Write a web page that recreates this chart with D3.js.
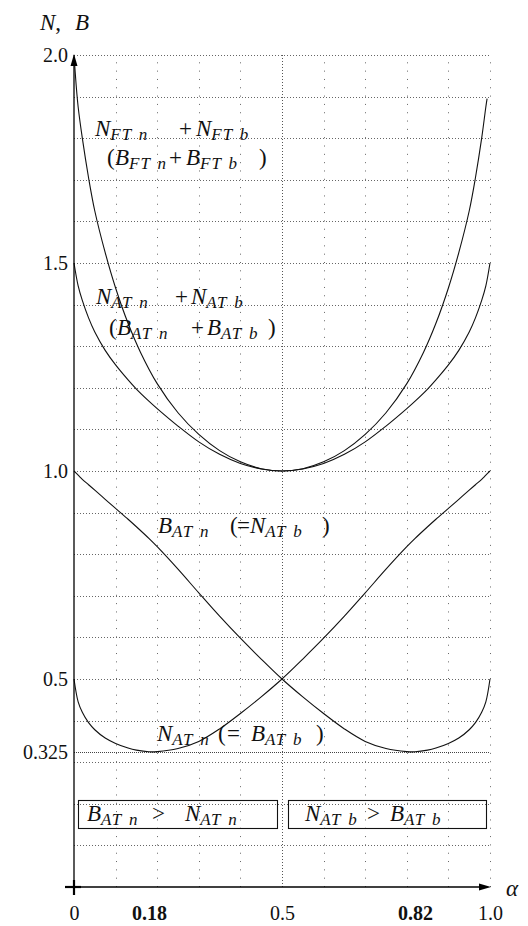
<!DOCTYPE html>
<html><head><meta charset="utf-8">
<script src="https://cdn.jsdelivr.net/npm/d3@7/dist/d3.min.js"></script>
<style>body{margin:0;background:#fff}svg{display:block}</style>
</head><body>
<svg id="chart" width="528" height="926"></svg>
<script>
// ---- data ----
const alpha = [0, 0.01, 0.02, 0.035, 0.05, 0.075, 0.1, 0.13, 0.15, 0.18, 0.2, 0.25, 0.3, 0.35, 0.4, 0.45, 0.5,
               0.55, 0.6, 0.65, 0.7, 0.75, 0.8, 0.82, 0.85, 0.87, 0.9, 0.925, 0.95, 0.965, 0.98, 0.99, 1.0];
const nATn = [0.5, 0.445, 0.42, 0.395, 0.378, 0.358, 0.345, 0.334, 0.329, 0.325, 0.3255, 0.333, 0.35, 0.38, 0.417, 0.457, 0.5,
              0.548, 0.598, 0.651, 0.707, 0.764, 0.818, 0.838, 0.866, 0.884, 0.91, 0.932, 0.954, 0.967, 0.98, 0.99, 1.0];
const bATn = [1.0, 0.99, 0.98, 0.967, 0.954, 0.932, 0.91, 0.884, 0.866, 0.838, 0.818, 0.764, 0.707, 0.651, 0.598, 0.548, 0.5,
              0.457, 0.417, 0.38, 0.35, 0.333, 0.3255, 0.325, 0.329, 0.334, 0.345, 0.358, 0.378, 0.395, 0.42, 0.445, 0.5];
const sumAT = [1.5, 1.445, 1.41, 1.368, 1.334, 1.29, 1.255, 1.219, 1.197, 1.168, 1.15, 1.108, 1.07, 1.04, 1.018, 1.005, 1.0,
               1.005, 1.018, 1.04, 1.07, 1.108, 1.15, 1.168, 1.197, 1.219, 1.255, 1.29, 1.334, 1.368, 1.41, 1.445, 1.5];
const alphaFT = [0, 0.005, 0.01, 0.02, 0.035, 0.05, 0.075, 0.1, 0.13, 0.16, 0.2, 0.25, 0.3, 0.35, 0.4, 0.45, 0.5,
                 0.55, 0.6, 0.65, 0.7, 0.75, 0.8, 0.84, 0.87, 0.9, 0.925, 0.95, 0.965, 0.98, 0.99, 0.993];
const sumFT = [2.0, 1.93, 1.875, 1.8, 1.705, 1.625, 1.525, 1.44, 1.355, 1.285, 1.21, 1.14, 1.088, 1.049, 1.022, 1.0055, 1.0,
               1.0055, 1.022, 1.049, 1.088, 1.14, 1.21, 1.285, 1.355, 1.44, 1.525, 1.625, 1.705, 1.8, 1.875, 1.895];
const yTickValues = [2.0, 1.5, 1.0, 0.5, 0.325];
const yTickLabels = ["2.0", "1.5", "1.0", "0.5", "0.325"];
const xTickValues = [0, 0.18, 0.5, 0.82, 1.0];
const xTickLabels = ["0", "0.18", "0.5", "0.82", "1.0"];
const boldTicks = [0.18, 0.82];
const minValue = 0.325;

// ---- drawing ----
const svg = d3.select("#chart");
const x = d3.scaleLinear().domain([0, 1]).range([74, 490]);
const y = d3.scaleLinear().domain([0, 2]).range([887, 55]);
const FONT = "'Liberation Serif','Times New Roman',serif";
const crisp = v => Math.round(v) + 0.5;

// grid
const gridY = d3.range(1, 21).map(i => i / 10);
const gridX = d3.range(1, 11).map(i => i / 10);
const grid = svg.append("g");
grid.selectAll("line.h").data(gridY).join("line")
  .attr("x1", x(0)).attr("x2", x(1))
  .attr("y1", d => crisp(y(d))).attr("y2", d => crisp(y(d)))
  .attr("stroke", "#666").attr("stroke-width", 1).attr("stroke-dasharray", "1,2");
grid.selectAll("line.v").data(gridX).join("line")
  .attr("x1", d => crisp(x(d))).attr("x2", d => crisp(x(d)))
  .attr("y1", y(0)).attr("y2", y(2))
  .attr("stroke", d => d === 0.5 ? "#555" : "#666").attr("stroke-width", 1)
  .attr("stroke-dasharray", d => d === 0.5 ? "1,2" : "1," + ((y(0) - y(0.1)) / 5 - 1));
grid.append("line")
  .attr("x1", x(0)).attr("x2", x(1))
  .attr("y1", crisp(y(minValue))).attr("y2", crisp(y(minValue)))
  .attr("stroke", "#444").attr("stroke-width", 1).attr("stroke-dasharray", "1,1");

// curves
const line = d3.line().curve(d3.curveCatmullRom.alpha(0.5));
const series = [
  alpha.map((a, i) => [x(a), y(nATn[i])]),
  alpha.map((a, i) => [x(a), y(bATn[i])]),
  alpha.map((a, i) => [x(a), y(sumAT[i])]),
  alphaFT.map((a, i) => [x(a), y(sumFT[i])])
];
svg.append("g").selectAll("path").data(series).join("path")
  .attr("d", d => line(d)).attr("fill", "none").attr("stroke", "#111").attr("stroke-width", 1.1);

// axes
const ax = svg.append("g").attr("stroke", "#000");
ax.append("line").attr("x1", 65).attr("x2", x(1) - 8).attr("y1", y(0)).attr("y2", y(0)).attr("stroke-width", 1.3);
ax.append("line").attr("x1", x(0)).attr("x2", x(0)).attr("y1", 895).attr("y2", y(2) + 8).attr("stroke-width", 1.3);
ax.append("line").attr("x1", 65).attr("x2", 81).attr("y1", y(0)).attr("y2", y(0)).attr("stroke-width", 2.2);
ax.append("line").attr("x1", x(0)).attr("x2", x(0)).attr("y1", 880).attr("y2", 895).attr("stroke-width", 2.2);
svg.append("path").attr("d", `M${x(1) + 1},${y(0)} L${x(1) - 11},${y(0) - 3.5} L${x(1) - 11},${y(0) + 3.5} Z`).attr("fill", "#000");
svg.append("path").attr("d", `M${x(0)},${y(2) - 1} L${x(0) - 3.5},${y(2) + 11} L${x(0) + 3.5},${y(2) + 11} Z`).attr("fill", "#000");

// tick labels via d3 axes
const yAxis = d3.axisLeft(y).tickValues(yTickValues).tickFormat((d, i) => yTickLabels[i]).tickSize(0).tickPadding(6);
const gy = svg.append("g").attr("transform", `translate(${x(0)},0)`).call(yAxis);
gy.select(".domain").remove();
gy.selectAll("text").attr("font-family", FONT).attr("font-size", 20).attr("fill", "#111");

const xAxis = d3.axisBottom(x).tickValues(xTickValues).tickFormat((d, i) => xTickLabels[i]).tickSize(0).tickPadding(19);
const gx = svg.append("g").attr("transform", `translate(0,${y(0)})`).call(xAxis);
gx.select(".domain").remove();
gx.selectAll("text").attr("font-family", FONT).attr("font-size", 20).attr("fill", "#111")
  .attr("font-weight", d => boldTicks.includes(d) ? "bold" : "normal");

// math labels: [kind, x (or null = flow), text]
function mathText(baseY, parts) {
  const t = svg.append("text").attr("font-family", FONT).attr("fill", "#111");
  parts.forEach(p => {
    const ts = t.append("tspan").text(p[2]);
    if (p[1] !== null) ts.attr("x", p[1]);
    if (p[0] === "s") {
      ts.attr("y", baseY + 4).attr("font-size", 17).attr("font-style", "italic").attr("letter-spacing", 1);
    } else {
      ts.attr("y", baseY).attr("font-size", 23).attr("font-style", p[0] === "i" ? "italic" : "normal");
    }
  });
}
const SP = "\u2004";
mathText(30, [["i", 40, "N"], ["r", null, ","], ["i", 75, "B"]]);
svg.append("text").attr("x", 506).attr("y", 896).attr("font-family", FONT).attr("font-size", 23)
  .attr("font-style", "italic").attr("fill", "#111").text("α");

mathText(136, [["i", 95, "N"], ["s", null, "FT" + SP + "n"], ["r", 179, "+"], ["i", 196, "N"], ["s", null, "FT" + SP + "b"]]);
mathText(165, [["r", 107, "("], ["i", 115, "B"], ["s", null, "FT" + SP + "n"], ["r", 169, "+"], ["i", 186, "B"], ["s", null, "FT" + SP + "b"], ["r", 259, ")"]]);
mathText(304, [["i", 96, "N"], ["s", null, "AT" + SP + "n"], ["r", 175, "+"], ["i", 191, "N"], ["s", null, "AT" + SP + "b"]]);
mathText(335, [["r", 109, "("], ["i", 117, "B"], ["s", null, "AT" + SP + "n"], ["r", 191, "+"], ["i", 207, "B"], ["s", null, "AT" + SP + "b"], ["r", 268, ")"]]);
mathText(533, [["i", 158, "B"], ["s", null, "AT" + SP + "n"], ["r", 230, "("], ["r", 237, "="], ["i", 250, "N"], ["s", null, "AT" + SP + "b"], ["r", 322, ")"]]);
mathText(741, [["i", 157, "N"], ["s", null, "AT" + SP + "n"], ["r", 218, "("], ["r", 227, "="], ["i", 251, "B"], ["s", null, "AT" + SP + "b"], ["r", 316, ")"]]);

// boxes
const boxes = [[0.01, 0.489], [0.514, 0.99]];
svg.append("g").selectAll("rect").data(boxes).join("rect")
  .attr("x", d => crisp(x(d[0]))).attr("width", d => Math.round(x(d[1]) - x(d[0])))
  .attr("y", crisp(y(0.208))).attr("height", Math.round(y(0.14) - y(0.208)))
  .attr("fill", "none").attr("stroke", "#111").attr("stroke-width", 1.1);
mathText(821, [["i", 87, "B"], ["s", null, "AT" + SP + "n"], ["r", 152, ">"], ["i", 185, "N"], ["s", null, "AT" + SP + "n"]]);
mathText(821, [["i", 305, "N"], ["s", null, "AT" + SP + "b"], ["r", 367, ">"], ["i", 390, "B"], ["s", null, "AT" + SP + "b"]]);
</script>
</body></html>
